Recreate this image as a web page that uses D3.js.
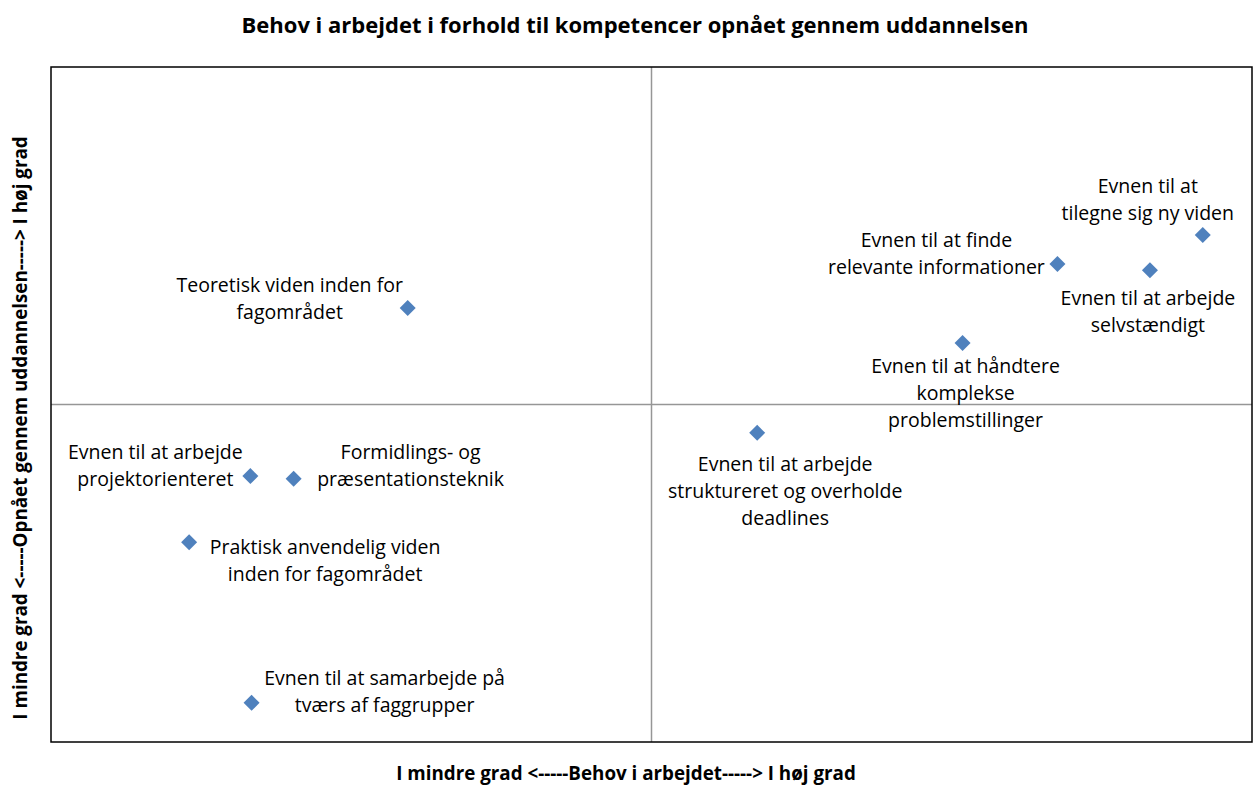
<!DOCTYPE html>
<html>
<head>
<meta charset="utf-8">
<script src="https://cdn.jsdelivr.net/npm/d3@7"></script>
<style>
	body { margin: 0; background: #fff; }
	svg text { font-family: "Open Sans", Lato, sans-serif; fill: #000; }
</style>
</head>
<body>
<svg class="mainsvg" width="1260" height="786"></svg>
<script>
// competence labels (each line of the label)
var labels = [
	['Teoretisk viden inden for', 'fagområdet'],
	['Evnen til at', 'tilegne sig ny viden'],
	['Evnen til at finde', 'relevante informationer'],
	['Evnen til at arbejde', 'selvstændigt'],
	['Evnen til at håndtere', 'komplekse', 'problemstillinger'],
	['Evnen til at arbejde', 'struktureret og overholde', 'deadlines'],
	['Evnen til at arbejde', 'projektorienteret'],
	['Formidlings- og', 'præsentationsteknik'],
	['Praktisk anvendelig viden', 'inden for fagområdet'],
	['Evnen til at samarbejde på', 'tværs af faggrupper']
];
// behov i arbejdet (x) and opnået gennem uddannelsen (y), 0-100, midpoint 50
var behov = [29.7, 95.9, 83.8, 91.5, 75.9, 58.8, 16.6, 20.2, 11.5, 16.7];
var opnaaet = [64.3, 75.1, 70.8, 69.9, 59.1, 45.8, 39.4, 39.0, 29.6, 5.8];
var xDomain = [0, 100];
var yDomain = [0, 100];
var midX = 50, midY = 50;

var title = 'Behov i arbejdet i forhold til kompetencer opnået gennem uddannelsen';
var xTitle = 'I mindre grad <-----Behov i arbejdet-----> I høj grad';
var yTitle = 'I mindre grad <-----Opnået gennem uddannelsen-----> I høj grad';

// label placement relative to the point (px): center x offset, first line y offset
var labelPos = [
	[-118, -23], [-55, -49], [-121, -24], [-2, 28], [3, 23],
	[28, 31], [-95, -24], [117, -27], [136, 5], [133, -25]
];

var _width = 1260, _height = 786;
var margin = {left: 51, right: 8, top: 67, bottom: 44};

var svg = d3.select('.mainsvg');

var x = d3.scaleLinear()
	.domain(xDomain)
	.range([margin.left, _width - margin.right]);
var y = d3.scaleLinear()
	.domain(yDomain)
	.range([_height - margin.bottom, margin.top]);

// quadrant lines
svg.append('line')
	.attr('x1', x(midX)).attr('x2', x(midX))
	.attr('y1', y(yDomain[1])).attr('y2', y(yDomain[0]))
	.attr('stroke', '#969696')
	.attr('stroke-width', 1.5)
svg.append('line')
	.attr('x1', x(xDomain[0])).attr('x2', x(xDomain[1]))
	.attr('y1', y(midY)).attr('y2', y(midY))
	.attr('stroke', '#969696')
	.attr('stroke-width', 1.5)

// plot frame
svg.append('rect')
	.attr('x', x(xDomain[0]))
	.attr('y', y(yDomain[1]))
	.attr('width', x(xDomain[1]) - x(xDomain[0]))
	.attr('height', y(yDomain[0]) - y(yDomain[1]))
	.attr('fill', 'none')
	.attr('stroke', '#000')
	.attr('stroke-width', 1.5)

var data = labels.map(function (l, i) {
	return {lines: l, x: behov[i], y: opnaaet[i], pos: labelPos[i]};
});

// diamonds
svg.selectAll('.pt')
	.data(data)
	.enter()
	.append('path')
	.classed('pt', true)
	.attr('d', d3.symbol().type(d3.symbolSquare).size(128))
	.attr('transform', function (d) { return 'translate(' + x(d.x) + ',' + y(d.y) + ') rotate(45)'; })
	.attr('fill', '#4F81BD')

// labels
var lab = svg.selectAll('.lab')
	.data(data)
	.enter()
	.append('text')
	.classed('lab', true)
	.attr('font-size', '19.5px')
	.style('text-anchor', 'middle')
	.attr('transform', function (d) { return 'translate(' + (x(d.x) + d.pos[0]) + ',' + (y(d.y) + d.pos[1]) + ')'; })

lab.selectAll('tspan')
	.data(function (d) { return d.lines; })
	.enter()
	.append('tspan')
	.attr('x', 0)
	.attr('y', function (d, i) { return i * 27; })
	.attr('dy', '0.35em')
	.text(function (d) { return d; })

// titles
svg.append('text')
	.attr('x', 635)
	.attr('y', 33)
	.attr('font-size', '22px')
	.attr('font-weight', '700')
	.style('text-anchor', 'middle')
	.text(title)

svg.append('text')
	.attr('x', 626)
	.attr('y', 780)
	.attr('font-size', '18.8px')
	.attr('font-weight', '700')
	.style('text-anchor', 'middle')
	.text(xTitle)

svg.append('text')
	.attr('transform', 'translate(27,428) rotate(-90)')
	.attr('font-size', '18.8px')
	.attr('font-weight', '700')
	.style('text-anchor', 'middle')
	.text(yTitle)
</script>
</body>
</html>
